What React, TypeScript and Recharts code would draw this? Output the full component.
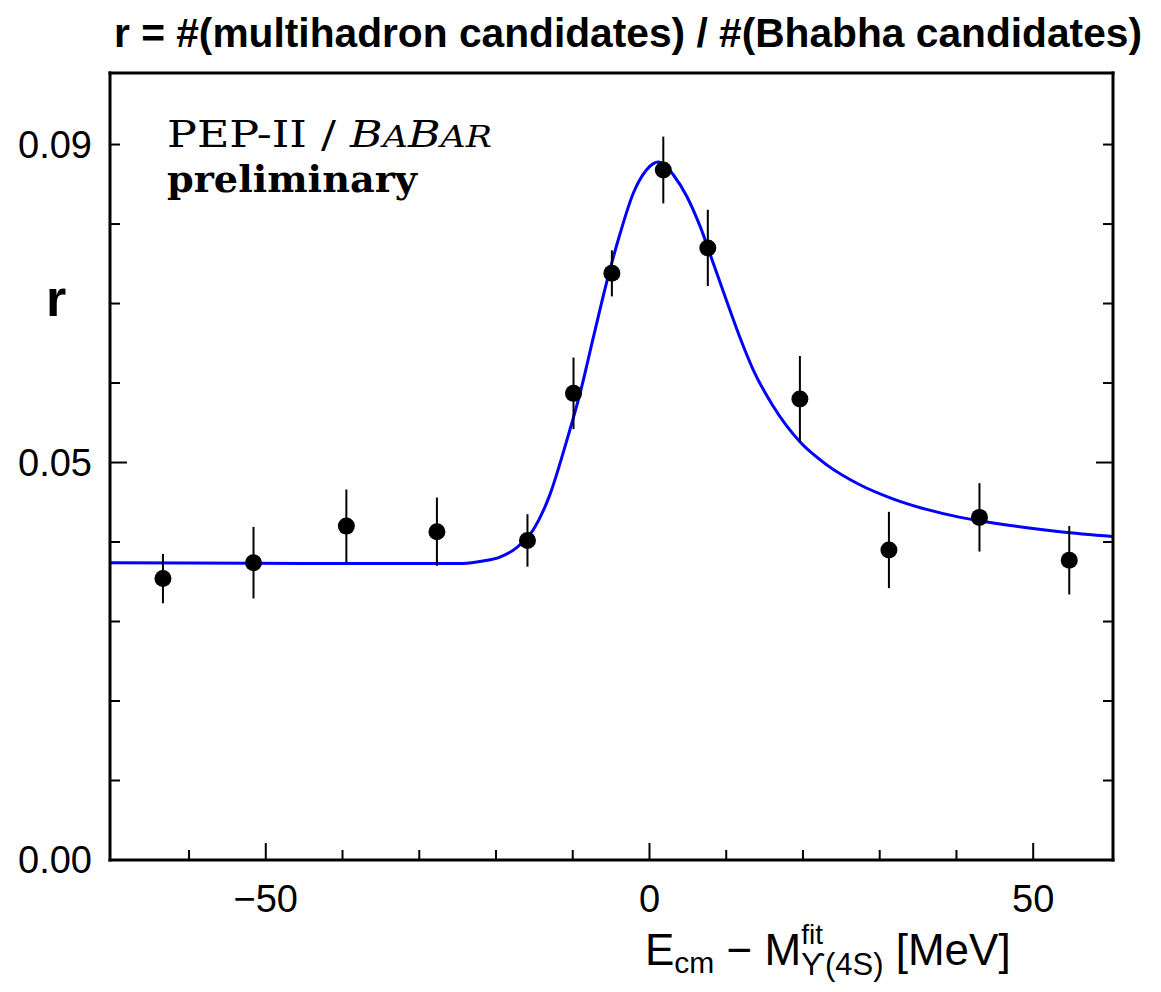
import React from "react"
import { ComposedChart, Line, Scatter, ErrorBar, XAxis, YAxis } from "recharts"

// measured points: E_cm - M(4S) [MeV], ratio r, error on r
const energies = [-63.4, -51.6, -39.5, -27.7, -15.9, -9.9, -4.9, 1.8, 7.6, 19.6, 31.2, 43.0, 54.7]
const ratios = [0.0354, 0.0374, 0.042, 0.0413, 0.0402, 0.0587, 0.0738, 0.0868, 0.077, 0.058, 0.039, 0.0431, 0.0377]
const ratioErrors = [0.0031, 0.0045, 0.0046, 0.0043, 0.0033, 0.0045, 0.0029, 0.0042, 0.0048, 0.0054, 0.0048, 0.0043, 0.0043]

// fit curve
const fitEnergies = [
  -70.3, -45, -24.3, -21.7, -19.5, -17.3, -15.1, -13.0, -10.8, -9.1, -7.3, -5.6, -3.8, -2.1, -0.4, 0.5, 1.15, 1.8,
  3.1, 4.85, 6.6, 8.3, 10.1, 11.8, 13.5, 16.1, 19.6, 23.1, 27.4, 31.8, 36.1, 40.5, 44.8, 49.2, 53.5, 60.4,
]
const fitRatios = [
  0.0374, 0.0373, 0.0373, 0.0376, 0.0381, 0.0393, 0.0416, 0.0459, 0.0527, 0.0585, 0.0658, 0.0726, 0.0789, 0.0839,
  0.0868, 0.0876, 0.0878, 0.0876, 0.0862, 0.0835, 0.0797, 0.0751, 0.0702, 0.0657, 0.0617, 0.0571, 0.0526, 0.0497,
  0.0472, 0.0454, 0.0441, 0.0431, 0.0424, 0.0418, 0.0413, 0.0407,
]

const xTicks = [-60, -50, -40, -30, -20, -10, 0, 10, 20, 30, 40, 50]
const xMajor = [-50, 0, 50]
const xTickLabels: Record<string, string> = { "-50": "\u221250", "0": "0", "50": "50" }
const yTicks = [0, 0.01, 0.02, 0.03, 0.04, 0.05, 0.06, 0.07, 0.08, 0.09]
const yTickLabels = ["0.00", "", "", "", "", "0.05", "", "", "", "0.09"]

const points = energies.map((x, i) => ({ x, r: ratios[i], err: ratioErrors[i] }))
const fit = fitEnergies.map((x, i) => ({ x, r: fitRatios[i] }))

const sans = "'Liberation Sans', Arial, sans-serif"
const serif = "'DejaVu Serif', serif"

function BottomTick({ x, y, payload }: any) {
  const major = xMajor.includes(payload.value)
  return (
    <g>
      <line x1={x} y1={y} x2={x} y2={y - (major ? 17 : 10)} stroke="#000" strokeWidth={2} />
      {major && (
        <text x={x} y={y + 52} textAnchor="middle" fontFamily={sans} fontSize={38} fill="#000">
          {xTickLabels[String(payload.value)]}
        </text>
      )}
    </g>
  )
}

function TopTick({ x, y, payload }: any) {
  const major = xMajor.includes(payload.value)
  return <line x1={x} y1={y} x2={x} y2={y + (major ? 17 : 10)} stroke="#000" strokeWidth={2} />
}

function LeftTick({ x, y, index }: any) {
  const major = index === 5
  return (
    <g>
      <line x1={x} y1={y} x2={x + (major ? 17 : 10)} y2={y} stroke="#000" strokeWidth={2} />
      {yTickLabels[index] && (
        <text x={x - 18} y={y + 13} textAnchor="end" fontFamily={sans} fontSize={38} fill="#000">
          {yTickLabels[index]}
        </text>
      )}
    </g>
  )
}

function RightTick({ x, y, index }: any) {
  const major = index === 5
  return <line x1={x} y1={y} x2={x - (major ? 17 : 10)} y2={y} stroke="#000" strokeWidth={2} />
}

const dot = (p: any) => <circle cx={p.cx} cy={p.cy} r={8.5} fill="#000" />

const frame = { stroke: "#000", strokeWidth: 3, strokeLinecap: "square" as const }

export default function App() {
  return (
    <div style={{ position: "relative", width: 1145, height: 976 }}>
      <ComposedChart width={1145} height={976} margin={{ top: 55, right: 30, bottom: 64, left: 42 }}>
        <XAxis
          xAxisId="bottom"
          dataKey="x"
          type="number"
          domain={[-70.3, 60.4]}
          ticks={xTicks}
          allowDataOverflow
          height={60}
          tickSize={0}
          tickMargin={0}
          axisLine={frame}
          tickLine={false}
          tick={<BottomTick />}
          interval={0}
        />
        <XAxis
          xAxisId="top"
          orientation="top"
          type="number"
          domain={[-70.3, 60.4]}
          ticks={xTicks}
          allowDataOverflow
          height={10}
          tickSize={0}
          tickMargin={0}
          axisLine={frame}
          tickLine={false}
          tick={<TopTick />}
          interval={0}
        />
        <YAxis
          yAxisId="left"
          dataKey="r"
          type="number"
          domain={[0, 0.099]}
          ticks={yTicks}
          allowDataOverflow
          width={60}
          tickSize={0}
          tickMargin={0}
          axisLine={frame}
          tickLine={false}
          tick={<LeftTick />}
          interval={0}
        />
        <YAxis
          yAxisId="right"
          orientation="right"
          type="number"
          domain={[0, 0.099]}
          ticks={yTicks}
          allowDataOverflow
          width={10}
          tickSize={0}
          tickMargin={0}
          axisLine={frame}
          tickLine={false}
          tick={<RightTick />}
          interval={0}
        />
        <Line
          xAxisId="bottom"
          yAxisId="left"
          data={fit}
          dataKey="r"
          type="monotone"
          stroke="#0000ff"
          strokeWidth={3}
          dot={false}
          activeDot={false}
          isAnimationActive={false}
        />
        <Scatter
          xAxisId="bottom"
          yAxisId="left"
          data={points}
          dataKey="r"
          fill="#000"
          shape={dot}
          isAnimationActive={false}
        >
          <ErrorBar dataKey="err" direction="y" width={0} stroke="#000" strokeWidth={2} />
        </Scatter>
      </ComposedChart>
      <svg
        width={1145}
        height={984}
        style={{ position: "absolute", left: 0, top: 0, pointerEvents: "none", overflow: "visible" }}
      >
        <text
          x={106}
          y={39}
          fontFamily={sans}
          fontWeight="bold"
          fontSize={40}
          textLength={1028}
          lengthAdjust="spacingAndGlyphs"
        >
          r = #(multihadron candidates) / #(Bhabha candidates)
        </text>
        <text x={38} y={308} fontFamily={sans} fontWeight="bold" fontSize={52}>
          r
        </text>
        <text x={159} y={139} fontFamily={serif} fontSize={37} textLength={325} lengthAdjust="spacingAndGlyphs">
          PEP-II /{" "}
          <tspan fontStyle="italic">
            B<tspan fontSize={29}>A</tspan>B<tspan fontSize={29}>AR</tspan>
          </tspan>
        </text>
        <text
          x={159}
          y={184}
          fontFamily={serif}
          fontWeight="bold"
          fontSize={37}
          textLength={250}
          lengthAdjust="spacingAndGlyphs"
        >
          preliminary
        </text>
        <text x={637} y={957} fontFamily={sans} fontSize={44}>
          E
          <tspan fontSize={30} dy={8}>
            cm
          </tspan>
          <tspan dy={-8}> {"\u2212"} M</tspan>
          <tspan fontSize={28} dy={-21}>
            fit
          </tspan>
          <tspan fontSize={31} dx={-22} dy={31}>
            {"\u03d2(4S)"}
          </tspan>
          <tspan dy={-10}> [MeV]</tspan>
        </text>
      </svg>
    </div>
  )
}
